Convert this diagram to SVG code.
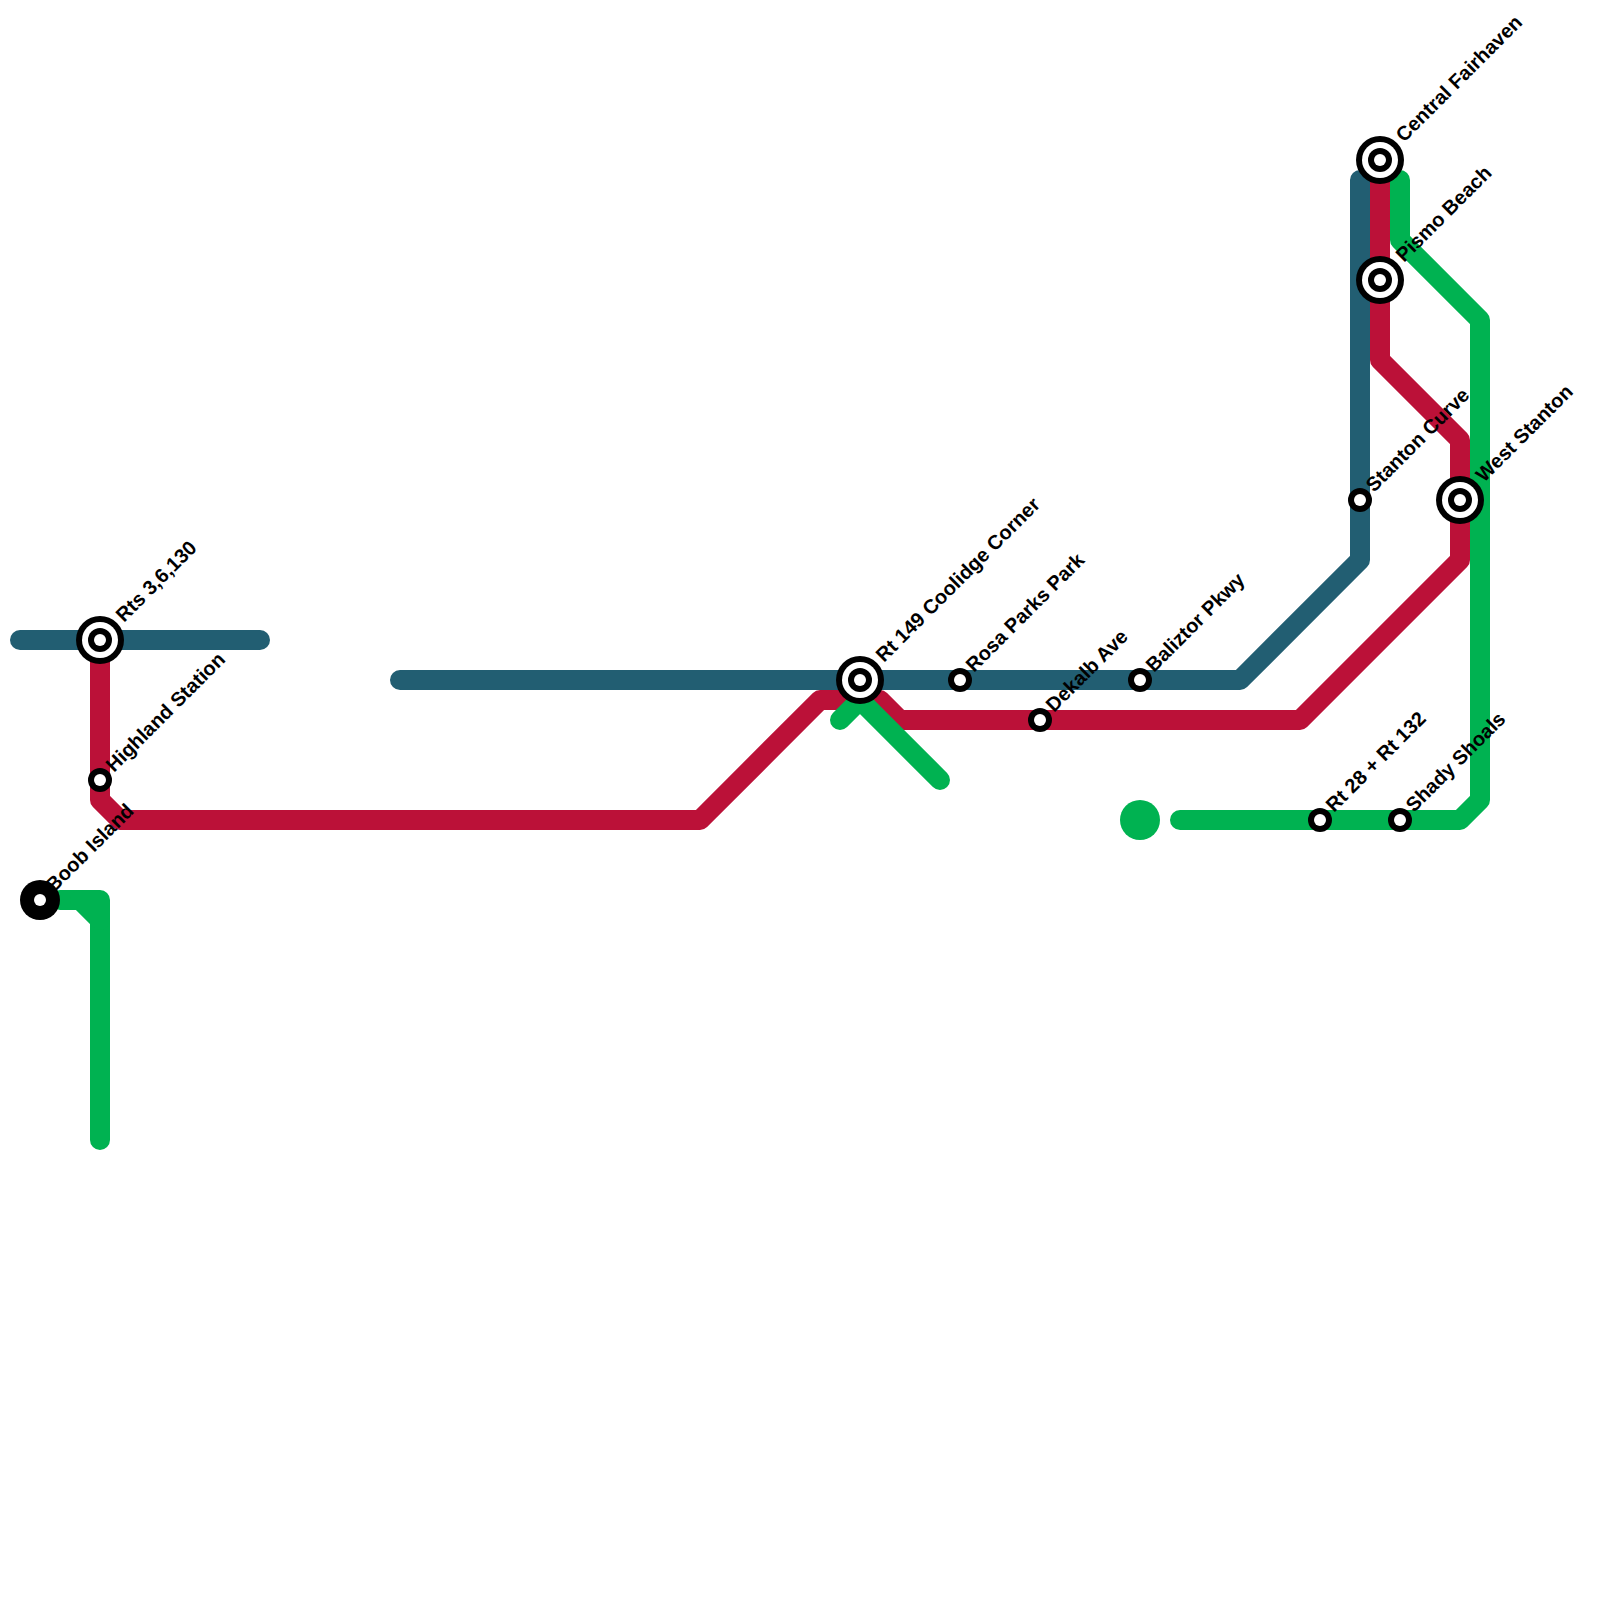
<svg xmlns="http://www.w3.org/2000/svg" width="1600" height="1600" viewBox="0 0 1600 1600">
<style>
.line{fill:none;stroke-width:20;stroke-linecap:round;stroke-linejoin:round}
.blue{stroke:#225e72}.red{stroke:#bb1138}.green{stroke:#00b251}
.k{fill:#000}.w{fill:#fff}
text{font-family:"Liberation Sans",Arial,sans-serif;font-weight:700;font-size:20px;fill:#000;text-rendering:geometricPrecision}
</style>
<rect width="1600" height="1600" fill="#fff"/>
<g id="connectors">
<path class="line blue" d="M20 640H260"/>
<path class="line blue" d="M400 680H1240L1360 560V180"/>
<path class="line red" d="M100 640V800L120 820H700L820 700H880L900 720H1300L1460 560V440L1380 360V160"/>
<path class="line green" d="M60 900H100V1140"/>
<path class="line green" d="M80 900L100 920"/>
<path class="line green" d="M840 720L860 700L940 780"/>
<path class="line green" d="M1400 180V240L1480 320V800L1460 820H1180"/>
</g>
<g id="terminal-green"><circle cx="1140" cy="820" r="20" fill="#00b251"/></g>
<g id="rts-3-6-130"><circle class="k" cx="100" cy="640" r="24"/><circle class="w" cx="100" cy="640" r="18"/><circle class="k" cx="100" cy="640" r="12"/><circle class="w" cx="100" cy="640" r="6"/><text transform="translate(124 623) rotate(-45)">Rts 3,6,130</text></g>
<g id="highland-station"><circle class="k" cx="100" cy="780" r="12"/><circle class="w" cx="100" cy="780" r="6"/><text transform="translate(114 773) rotate(-45)">Highland Station</text></g>
<g id="boob-island"><circle class="k" cx="40" cy="900" r="20"/><circle class="w" cx="40" cy="900" r="6"/><text transform="translate(54 893) rotate(-45)">Boob Island</text></g>
<g id="rt-149-coolidge-corner"><circle class="k" cx="860" cy="680" r="24"/><circle class="w" cx="860" cy="680" r="18"/><circle class="k" cx="860" cy="680" r="12"/><circle class="w" cx="860" cy="680" r="6"/><text transform="translate(884 663) rotate(-45)">Rt 149 Coolidge Corner</text></g>
<g id="rosa-parks-park"><circle class="k" cx="960" cy="680" r="12"/><circle class="w" cx="960" cy="680" r="6"/><text transform="translate(974 673) rotate(-45)">Rosa Parks Park</text></g>
<g id="dekalb-ave"><circle class="k" cx="1040" cy="720" r="12"/><circle class="w" cx="1040" cy="720" r="6"/><text transform="translate(1054 713) rotate(-45)">Dekalb Ave</text></g>
<g id="baliztor-pkwy"><circle class="k" cx="1140" cy="680" r="12"/><circle class="w" cx="1140" cy="680" r="6"/><text transform="translate(1154 673) rotate(-45)">Baliztor Pkwy</text></g>
<g id="rt-28-rt-132"><circle class="k" cx="1320" cy="820" r="12"/><circle class="w" cx="1320" cy="820" r="6"/><text transform="translate(1334 813) rotate(-45)">Rt 28 + Rt 132</text></g>
<g id="shady-shoals"><circle class="k" cx="1400" cy="820" r="12"/><circle class="w" cx="1400" cy="820" r="6"/><text transform="translate(1414 813) rotate(-45)">Shady Shoals</text></g>
<g id="stanton-curve"><circle class="k" cx="1360" cy="500" r="12"/><circle class="w" cx="1360" cy="500" r="6"/><text transform="translate(1374 493) rotate(-45)">Stanton Curve</text></g>
<g id="west-stanton"><circle class="k" cx="1460" cy="500" r="24"/><circle class="w" cx="1460" cy="500" r="18"/><circle class="k" cx="1460" cy="500" r="12"/><circle class="w" cx="1460" cy="500" r="6"/><text transform="translate(1484 483) rotate(-45)">West Stanton</text></g>
<g id="central-fairhaven"><circle class="k" cx="1380" cy="160" r="24"/><circle class="w" cx="1380" cy="160" r="18"/><circle class="k" cx="1380" cy="160" r="12"/><circle class="w" cx="1380" cy="160" r="6"/><text transform="translate(1404 143) rotate(-45)">Central Fairhaven</text></g>
<g id="pismo-beach"><circle class="k" cx="1380" cy="280" r="24"/><circle class="w" cx="1380" cy="280" r="18"/><circle class="k" cx="1380" cy="280" r="12"/><circle class="w" cx="1380" cy="280" r="6"/><text transform="translate(1404 263) rotate(-45)">Pismo Beach</text></g>
</svg>
